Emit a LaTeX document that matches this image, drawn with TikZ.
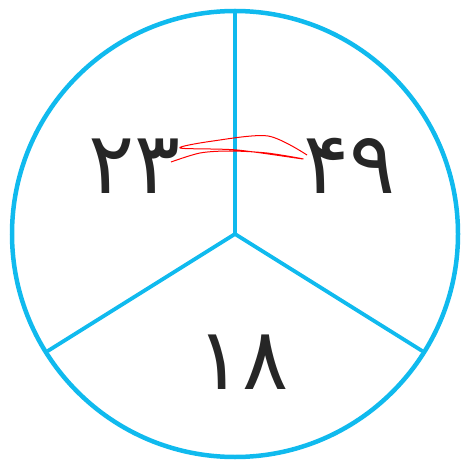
\documentclass[tikz,border=0pt]{standalone}
\usepackage{fontspec}
\newfontfamily\persianfont[Script=Arabic]{DejaVu Sans}
\usetikzlibrary{calc}
\definecolor{rim}{RGB}{16,186,238}

\begin{document}
\begin{tikzpicture}[
    x=1pt, y=1pt,
    every node/.style={font=\persianfont\fontsize{86}{86}\selectfont, text=black!85, inner sep=0pt},
    rimline/.style={draw=rim, line width=4.5pt},
    spoke/.style={draw=rim, line width=3.8pt},
    scribble/.style={draw=red, line width=1pt, line join=round}
]
\useasboundingbox (0,0) rectangle (465,464);
\coordinate (c) at (235,230);

\draw[rimline] (c) circle (223);
\draw[spoke] (c) -- ($(c)+(90:223)$);
\draw[spoke] (c) -- ($(c)+(212:221)$);
\draw[spoke] (c) -- ($(c)+(328:221)$);

\node (left) at (135,298) {۲۳};
\node (right) at (350,298) {۴۹};
\node (bottom) at (243,102) {۱۸};

% red marks joining the two numbers
\draw[scribble] plot[smooth, tension=0.5] coordinates {
    (171,302) (200,311) (230,313) (267,311) (303,305)
    (237,314) (180,316)
    (213,323) (268,328) (307,309)};
\end{tikzpicture}
\end{document}
